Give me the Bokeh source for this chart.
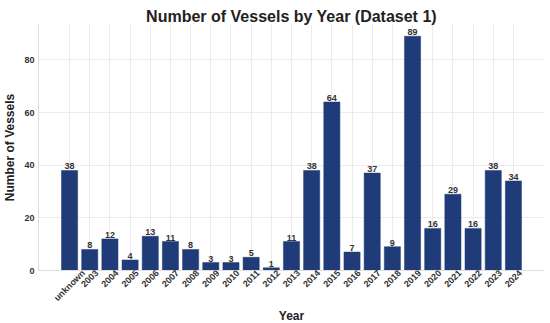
import math
from bokeh.plotting import figure
from bokeh.models import (ColumnDataSource, LabelSet, Range1d, FixedTicker,
                          CustomJSTickFormatter)
from bokeh.core.properties import value
from bokeh.embed import file_html
from bokeh.resources import INLINE

years = ["unknown", "2003", "2004", "2005", "2006", "2007", "2008", "2009", "2010",
         "2011", "2012", "2013", "2014", "2015", "2016", "2017", "2018", "2019",
         "2020", "2021", "2022", "2023", "2024"]
counts = [38, 8, 12, 4, 13, 11, 8, 3, 3, 5, 1, 11, 38, 64, 7, 37, 9, 89, 16, 29, 16, 38, 34]

FONT = "Liberation Sans"
TICK_PX = 9
FRAME_W = 506
X_LO, X_HI = -1.54, len(years) - 1 + 1.54
PX_PER_UNIT = FRAME_W / (X_HI - X_LO)

# approximate bold glyph advance widths (em) so rotated tick labels are centred on bars
_W = {"u": .611, "n": .611, "k": .556, "o": .611, "w": .778}
def text_w(s):
    return sum(_W.get(ch, .556) for ch in s) * TICK_PX

idx = list(range(len(years)))
label_ticks = [i + (text_w(s) / (2 * math.sqrt(2))) / PX_PER_UNIT for i, s in zip(idx, years)]

src = ColumnDataSource(dict(x=idx, y=counts, lbl=[str(c) for c in counts]))

p = figure(frame_width=FRAME_W, frame_height=246, output_backend="svg",
           toolbar_location=None, title="Number of Vessels by Year (Dataset 1)",
           min_border_left=0, min_border_right=0, min_border_top=24, min_border_bottom=0)
p.x_range = Range1d(X_LO, X_HI)
p.y_range = Range1d(0, 93.45)

p.vbar(x="x", top="y", width=0.8, source=src, fill_color="#1f3b78",
       line_color="#1f3b78", line_width=0.5)

labels = LabelSet(x="x", y="y", text="lbl", source=src, text_align="center",
                  text_baseline="bottom", y_offset=1, text_font_size="9px",
                  text_font=value(FONT), text_font_style="bold", text_color="#333333")
p.add_layout(labels)

p.title.text_font = FONT
p.title.text_font_size = "16px"
p.title.text_font_style = "bold"
p.title.text_color = "#222222"
p.title.align = "center"
p.title.standoff = 0
p.title.offset = 0

p.outline_line_color = None
for ax in (p.xaxis, p.yaxis):
    ax.axis_line_color = "#dddddd"
    ax.major_tick_line_color = None
    ax.minor_tick_line_color = None
    ax.major_tick_out = 0
    ax.major_tick_in = 0
    ax.minor_tick_out = 0
    ax.major_label_text_font = FONT
    ax.major_label_text_font_size = "9px"
    ax.major_label_text_font_style = "bold"
    ax.major_label_text_color = "#333333"
    ax.axis_label_text_font = FONT
    ax.axis_label_text_font_size = "12px"
    ax.axis_label_text_font_style = "bold"
    ax.axis_label_text_color = "#222222"
p.yaxis.major_label_standoff = 4
p.yaxis.axis_label_standoff = 4
p.yaxis.ticker = FixedTicker(ticks=[0, 20, 40, 60, 80])
p.xaxis.ticker = FixedTicker(ticks=label_ticks)
p.xaxis.formatter = CustomJSTickFormatter(args=dict(names=years),
                                          code="return names[Math.floor(tick + 1e-6)];")
p.xaxis.major_label_orientation = math.pi / 4
p.xaxis.major_label_standoff = 1
p.xaxis.axis_label_standoff = 0
p.xaxis.axis_label = "Year"
p.yaxis.axis_label = "Number of Vessels"
p.xgrid.ticker = FixedTicker(ticks=idx)
p.xgrid.grid_line_color = "#ebebeb"
p.ygrid.grid_line_color = "#ebebeb"

open("out.html", "w").write(file_html(p, INLINE))
